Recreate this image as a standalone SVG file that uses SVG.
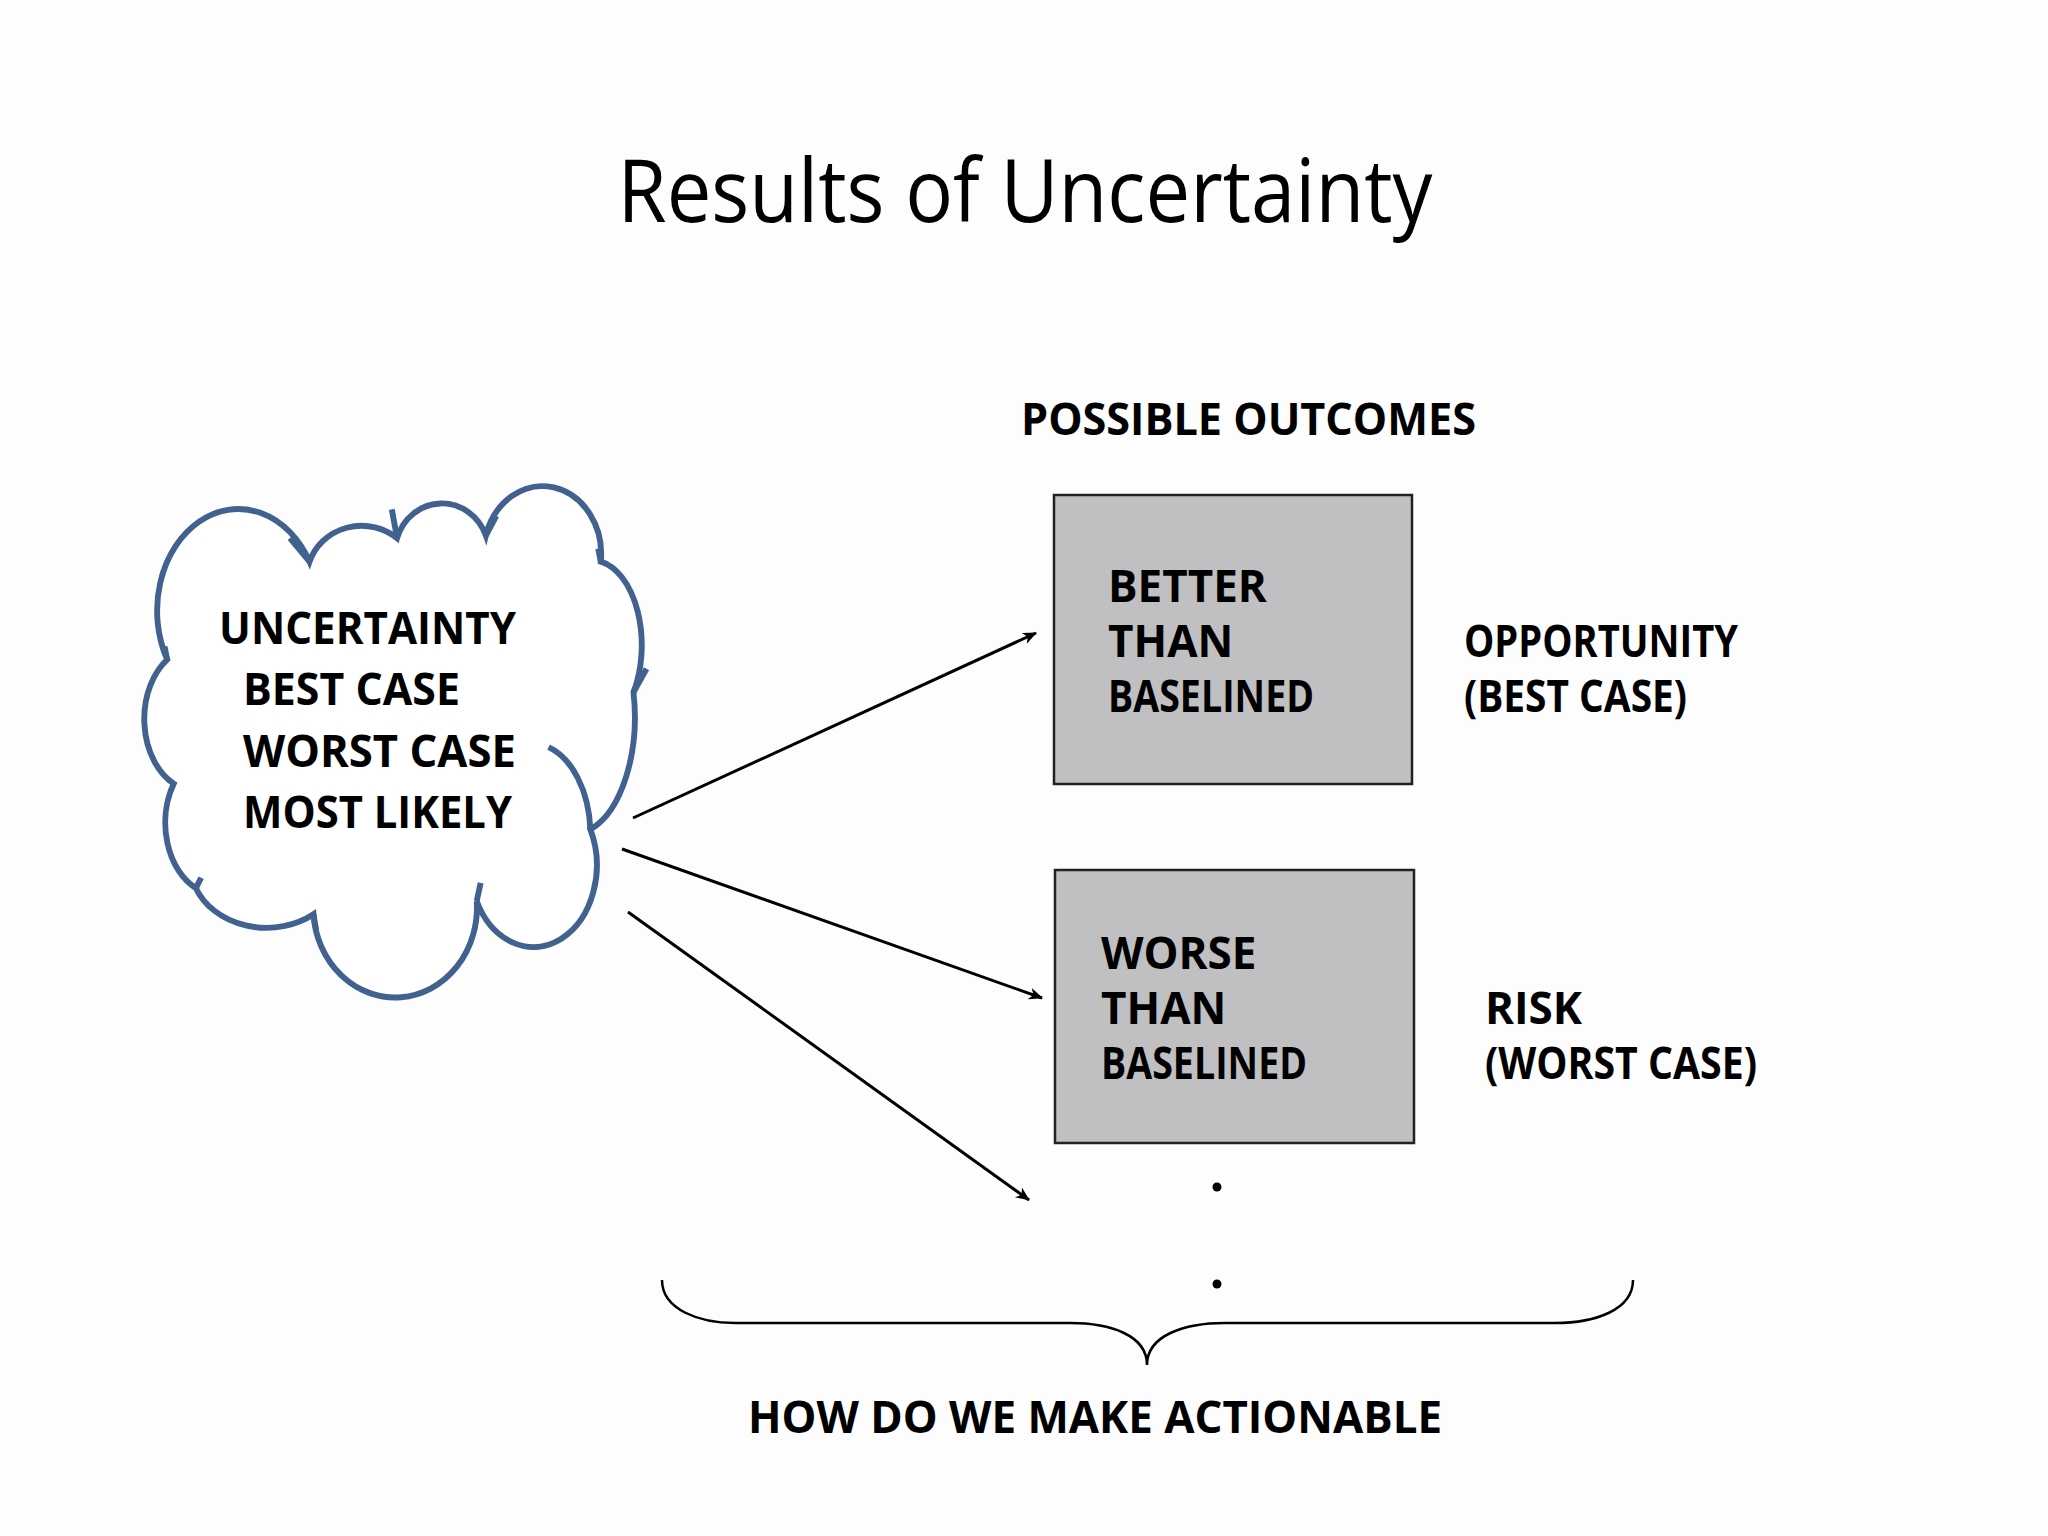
<svg xmlns="http://www.w3.org/2000/svg" width="2048" height="1536" viewBox="0 0 2048 1536">
<style>
.t{font-family:"Open Sans","Liberation Sans",sans-serif;font-weight:bold;font-size:44px;fill:#000}
.c{fill:none;stroke:#000;stroke-width:3}
</style>
<defs>
<marker id="ah" markerWidth="14" markerHeight="12" refX="13" refY="6" orient="auto" markerUnits="userSpaceOnUse">
<path d="M0,0 L14,6 L0,12 L4,6 Z" fill="#000"/>
</marker>
</defs>
<rect width="2048" height="1536" fill="#fdfdfd"/>
<text x="1025" y="222" text-anchor="middle" font-family="Open Sans, Liberation Sans, sans-serif" font-size="88" textLength="815" lengthAdjust="spacingAndGlyphs">Results of Uncertainty</text>
<text class="t" x="1021" y="435" textLength="455" lengthAdjust="spacingAndGlyphs">POSSIBLE OUTCOMES</text>
<g id="cloud">
<g transform="scale(1.3061)" fill="none" stroke="#41628f" stroke-width="4.5">
<path fill="#fff" d="M133,600 A40,55 0 0 1 128,505 A60,75 0 0 1 237,430 A42,40 0 0 1 304,412 A36,38 0 0 1 372,410 A45,52 0 0 1 460,430 A38,65 0 0 1 485,530 A48,90 0 0 1 452,635 A48,62 0 0 1 365,690 A62,68 0 0 1 240,700 A58,48 0 0 1 150,680 A40,55 0 0 1 133,600 Z"/>
<path d="M420,572 A45,70 0 0 1 452,635"/>
<path d="M128,505 L126,495"/><path d="M237,430 L222,412"/><path d="M304,412 L300,390"/><path d="M372,410 L380,395"/><path d="M460,430 L458,420"/><path d="M485,530 L495,512"/><path d="M365,690 L368,676"/><path d="M240,700 L242,712"/><path d="M150,680 L154,672"/>
</g>
<text class="t" x="219" y="644" textLength="297" lengthAdjust="spacingAndGlyphs">UNCERTAINTY</text>
<text class="t" x="243" y="705" textLength="217" lengthAdjust="spacingAndGlyphs">BEST CASE</text>
<text class="t" x="243" y="767" textLength="273" lengthAdjust="spacingAndGlyphs">WORST CASE</text>
<text class="t" x="243" y="828" textLength="269" lengthAdjust="spacingAndGlyphs">MOST LIKELY</text>
</g>
<g id="better">
<rect x="1054" y="495" width="358" height="289" fill="#c0bfc2" stroke="#222" stroke-width="2.5"/>
<text class="t" x="1108" y="602">BETTER</text>
<text class="t" x="1108" y="657">THAN</text>
<text class="t" x="1108" y="712" textLength="206" lengthAdjust="spacingAndGlyphs">BASELINED</text>
</g>
<g id="worse">
<rect x="1055" y="870" width="359" height="273" fill="#c0bfc2" stroke="#222" stroke-width="2.5"/>
<text class="t" x="1101" y="969">WORSE</text>
<text class="t" x="1101" y="1024">THAN</text>
<text class="t" x="1101" y="1079" textLength="206" lengthAdjust="spacingAndGlyphs">BASELINED</text>
</g>
<g id="opportunity">
<text class="t" x="1464" y="657" textLength="274" lengthAdjust="spacingAndGlyphs">OPPORTUNITY</text>
<text class="t" x="1464" y="712" textLength="223" lengthAdjust="spacingAndGlyphs">(BEST CASE)</text>
</g>
<g id="risk">
<text class="t" x="1485" y="1024">RISK</text>
<text class="t" x="1485" y="1079" textLength="272" lengthAdjust="spacingAndGlyphs">(WORST CASE)</text>
</g>
<g id="connectors">
<line class="c" x1="633" y1="818" x2="1036" y2="633" marker-end="url(#ah)"/>
<line class="c" x1="622" y1="849" x2="1042" y2="998" marker-end="url(#ah)"/>
<line class="c" x1="628" y1="912" x2="1029" y2="1200" marker-end="url(#ah)"/>
</g>
<circle cx="1217" cy="1187" r="4.5" fill="#000"/>
<circle cx="1217" cy="1284" r="4.5" fill="#000"/>
<path d="M662,1280 C662,1310 700,1323 735,1323 L1070,1323 C1110,1323 1147,1335 1147,1365 C1147,1335 1185,1323 1225,1323 L1555,1323 C1595,1323 1633,1310 1633,1280" fill="none" stroke="#000" stroke-width="2.5"/>
<text class="t" x="748" y="1433" textLength="694" lengthAdjust="spacingAndGlyphs">HOW DO WE MAKE ACTIONABLE</text>
</svg>
